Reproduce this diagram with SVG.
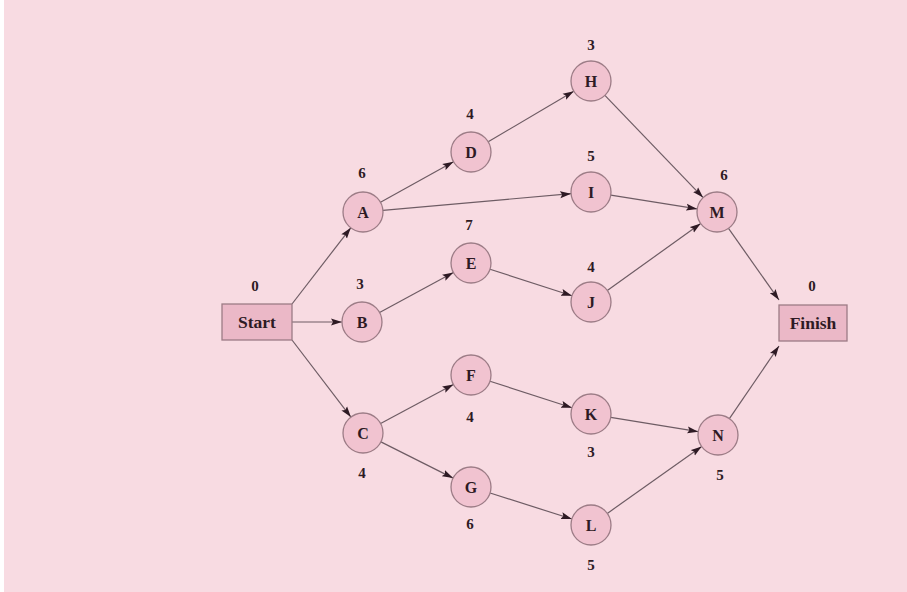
<svg xmlns="http://www.w3.org/2000/svg" width="907" height="592" viewBox="0 0 907 592">
<style>
.bg{fill:#f8dbe2}
.n circle{fill:#f1c3d0;stroke:#9c7c86;stroke-width:1.3}
.n rect{fill:#ebb8c7;stroke:#9c7c86;stroke-width:1.3}
text{font-family:"Liberation Serif","Times New Roman",serif;font-weight:bold;fill:#2e1a24;text-anchor:middle}
.lbl{font-size:16px}
.box{font-size:17.5px}
.num{font-size:15px}
#edges line{stroke:#6e5c64;stroke-width:1.2;marker-end:url(#ah)}
</style>
<defs>
<marker id="ah" markerUnits="userSpaceOnUse" markerWidth="12" markerHeight="8" refX="11" refY="4" orient="auto">
<path d="M0,0.5 L11,4 L0,7.5 L2,4 z" fill="#2e1a24"/>
</marker>
</defs>
<rect x="0" y="0" width="907" height="592" fill="#ffffff"/>
<rect class="bg" x="4" y="0" width="903" height="592"/>
<g id="edges">
<line x1="292" y1="304" x2="350.8" y2="227.8"/>
<line x1="292" y1="322" x2="342" y2="322"/>
<line x1="292" y1="340" x2="350.9" y2="417.1"/>
<line x1="380.5" y1="202.3" x2="453.5" y2="161.7"/>
<line x1="382.9" y1="210.3" x2="571.1" y2="193.7"/>
<line x1="379.6" y1="312.5" x2="453.4" y2="272.5"/>
<line x1="380.6" y1="423.5" x2="453.4" y2="384.5"/>
<line x1="380.9" y1="441.9" x2="453.1" y2="478.1"/>
<line x1="488.2" y1="141.8" x2="573.8" y2="91.2"/>
<line x1="490" y1="269.2" x2="572" y2="295.8"/>
<line x1="490" y1="381.2" x2="572" y2="407.8"/>
<line x1="490.1" y1="493" x2="571.9" y2="519"/>
<line x1="604.9" y1="95.4" x2="703.1" y2="197.6"/>
<line x1="610.8" y1="195.1" x2="697.2" y2="208.9"/>
<line x1="607.3" y1="290.4" x2="700.7" y2="223.6"/>
<line x1="610.7" y1="417.3" x2="698.3" y2="431.7"/>
<line x1="607.3" y1="513.4" x2="701.7" y2="446.6"/>
<line x1="728.5" y1="228.4" x2="779" y2="300"/>
<line x1="729.4" y1="418.6" x2="779" y2="346"/>
</g>
<g id="Start" class="n"><rect x="222" y="304" width="70" height="36"/><text class="box" x="257" y="328">Start</text><text class="num" x="255" y="291">0</text></g>
<g id="A" class="n"><circle cx="363" cy="212" r="20"/><text class="lbl" x="363" y="217.5">A</text><text class="num" x="362" y="178">6</text></g>
<g id="B" class="n"><circle cx="362" cy="322" r="20"/><text class="lbl" x="362" y="327.5">B</text><text class="num" x="360" y="289">3</text></g>
<g id="C" class="n"><circle cx="363" cy="433" r="20"/><text class="lbl" x="363" y="438.5">C</text><text class="num" x="362" y="478">4</text></g>
<g id="D" class="n"><circle cx="471" cy="152" r="20"/><text class="lbl" x="471" y="157.5">D</text><text class="num" x="470" y="119">4</text></g>
<g id="E" class="n"><circle cx="471" cy="263" r="20"/><text class="lbl" x="471" y="268.5">E</text><text class="num" x="469" y="230">7</text></g>
<g id="F" class="n"><circle cx="471" cy="375" r="20"/><text class="lbl" x="471" y="380.5">F</text><text class="num" x="470" y="422">4</text></g>
<g id="G" class="n"><circle cx="471" cy="487" r="20"/><text class="lbl" x="471" y="492.5">G</text><text class="num" x="470" y="529">6</text></g>
<g id="H" class="n"><circle cx="591" cy="81" r="20"/><text class="lbl" x="591" y="86.5">H</text><text class="num" x="591" y="50">3</text></g>
<g id="I" class="n"><circle cx="591" cy="192" r="20"/><text class="lbl" x="591" y="197.5">I</text><text class="num" x="591" y="161">5</text></g>
<g id="J" class="n"><circle cx="591" cy="302" r="20"/><text class="lbl" x="591" y="307.5">J</text><text class="num" x="591" y="272">4</text></g>
<g id="K" class="n"><circle cx="591" cy="414" r="20"/><text class="lbl" x="591" y="419.5">K</text><text class="num" x="591" y="457">3</text></g>
<g id="L" class="n"><circle cx="591" cy="525" r="20"/><text class="lbl" x="591" y="530.5">L</text><text class="num" x="591" y="570">5</text></g>
<g id="M" class="n"><circle cx="717" cy="212" r="20"/><text class="lbl" x="717" y="217.5">M</text><text class="num" x="724" y="180">6</text></g>
<g id="N" class="n"><circle cx="718" cy="435" r="20"/><text class="lbl" x="718" y="440.5">N</text><text class="num" x="720" y="480">5</text></g>
<g id="Finish" class="n"><rect x="779" y="305" width="68" height="36"/><text class="box" x="813" y="329">Finish</text><text class="num" x="812" y="291">0</text></g>
</svg>
